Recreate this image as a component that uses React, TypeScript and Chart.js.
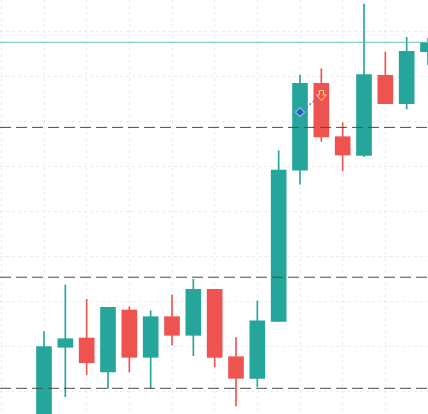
import React, { useEffect, useRef } from 'react';
import { Chart, registerables } from 'chart.js';

Chart.register(...registerables);

// ---- data ----
const candleIndex = [0, 1, 2, 3, 4, 5, 6, 7, 8, 9, 10, 11, 12, 13, 14, 15, 16, 17, 18];
const opens = [91.5, 109.93, 112.0, 104.44, 118.22, 107.71, 116.73, 112.6, 122.82, 107.84, 103.04, 115.71, 149.27, 168.6, 156.73, 152.6, 170.38, 164.07, 175.62];
const highs = [113.4, 123.78, 120.6, 118.82, 118.96, 118.07, 121.56, 125.04, 122.82, 112.07, 120.22, 153.62, 170.44, 171.84, 159.84, 186.22, 175.56, 178.82, 178.67];
const lows = [89.0, 98.96, 103.84, 100.82, 104.44, 100.82, 110.38, 108.07, 105.62, 96.89, 101.18, 115.71, 146.16, 155.71, 149.18, 152.29, 164.07, 162.89, 172.67];
const closes = [110.07, 111.84, 106.51, 118.82, 107.71, 116.73, 112.6, 122.82, 107.71, 103.04, 115.84, 149.33, 168.6, 156.67, 152.67, 170.51, 164.07, 175.71, 177.71];

const lastPrice = 177.71;
const levelLines = [158.8, 125.5, 100.82];
const entryMarker = { index: 12, price: 162.2 };
const exitMarker = { index: 13, price: 165.9 };

const xRange = [-2.0625, 18];
const yRange = [95.11, 187.11];
const xStep = 2;
const yStep = 10;

// ---- style ----
const UP = '#26a69a';
const DOWN = '#ef5350';

function makeArrow(): HTMLCanvasElement {
  const c = document.createElement('canvas');
  c.width = 13;
  c.height = 13;
  const g = c.getContext('2d')!;
  g.beginPath();
  g.moveTo(4.5, 1.5);
  g.lineTo(8.5, 1.5);
  g.lineTo(8.5, 6);
  g.lineTo(11.5, 6);
  g.lineTo(6.5, 11.5);
  g.lineTo(1.5, 6);
  g.lineTo(4.5, 6);
  g.closePath();
  g.fillStyle = '#ee5a2a';
  g.fill();
  g.strokeStyle = 'rgba(255,210,200,0.95)';
  g.lineWidth = 1;
  g.stroke();
  return c;
}

export default function App() {
  const ref = useRef<HTMLCanvasElement | null>(null);

  useEffect(() => {
    if (!ref.current) return;
    const colors = candleIndex.map((i) => (closes[i] >= opens[i] ? UP : DOWN));
    const arrow = makeArrow();

    const bodies = candleIndex.map((i) => ({ x: i, y: [opens[i], closes[i]] }));
    const wicks = candleIndex.map((i) => ({ x: i, y: [lows[i], highs[i]] }));

    const hLine = (v: number) => [
      { x: xRange[0], y: v },
      { x: xRange[1], y: v },
    ];

    const filterTicks = (step: number) => (scale: any) => {
      scale.ticks = scale.ticks.filter(
        (t: any) => Math.abs(t.value / step - Math.round(t.value / step)) < 1e-6
      );
    };

    const chart = new Chart(ref.current, {
      type: 'bar',
      data: {
        datasets: [
          {
            type: 'line',
            data: [
              { x: entryMarker.index, y: entryMarker.price },
              { x: exitMarker.index, y: exitMarker.price },
            ],
            borderColor: '#3f7fe0',
            borderWidth: 1.5,
            borderDash: [2, 2],
            pointRadius: 0,
            order: -1,
          } as any,
          {
            type: 'line',
            data: [{ x: entryMarker.index, y: entryMarker.price }],
            showLine: false,
            pointStyle: 'rectRot',
            pointRadius: 4.5,
            backgroundColor: '#1d5ec8',
            borderColor: '#cfe0f7',
            borderWidth: 1,
            order: -2,
          } as any,
          {
            type: 'line',
            data: [{ x: exitMarker.index, y: exitMarker.price }],
            showLine: false,
            pointStyle: arrow,
            pointRadius: 6,
            order: -2,
          } as any,
          {
            type: 'line',
            data: hLine(lastPrice),
            borderColor: '#62c3b8',
            borderWidth: 1,
            pointRadius: 0,
            order: 0,
          } as any,
          ...levelLines.map(
            (v) =>
              ({
                type: 'line',
                data: hLine(v),
                borderColor: '#4a4a4a',
                borderWidth: 1,
                borderDash: [11, 5],
                pointRadius: 0,
                order: 0,
              }) as any
          ),
          {
            type: 'bar',
            data: bodies,
            backgroundColor: colors,
            borderWidth: 0,
            barThickness: 15,
            grouped: false,
            order: 1,
          } as any,
          {
            type: 'bar',
            data: wicks,
            backgroundColor: colors,
            borderWidth: 0,
            barThickness: 1,
            grouped: false,
            order: 2,
          } as any,
        ],
      },
      options: {
        animation: false,
        responsive: false,
        maintainAspectRatio: false,
        events: [],
        layout: { padding: 0, autoPadding: false },
        plugins: {
          legend: { display: false },
          tooltip: { enabled: false },
          title: { display: false },
        },
        scales: {
          x: {
            type: 'linear',
            min: xRange[0],
            max: xRange[1],
            offset: false,
            ticks: { display: false, stepSize: xStep, includeBounds: false },
            afterBuildTicks: filterTicks(xStep),
            grid: { color: '#ececec', lineWidth: 1, drawTicks: false, offset: false },
            border: { display: false, dash: [3, 3] },
          },
          y: {
            type: 'linear',
            min: yRange[0],
            max: yRange[1],
            beginAtZero: false,
            ticks: { display: false, stepSize: yStep, includeBounds: false },
            afterBuildTicks: filterTicks(yStep),
            grid: { color: '#ececec', lineWidth: 1, drawTicks: false },
            border: { display: false, dash: [3, 3] },
          },
        },
      } as any,
    });

    return () => chart.destroy();
  }, []);

  return (
    <div style={{ position: 'absolute', left: 0, top: 0, width: 428, height: 414, background: '#fff' }}>
      <canvas ref={ref} width={428} height={414} style={{ display: 'block' }} />
    </div>
  );
}
